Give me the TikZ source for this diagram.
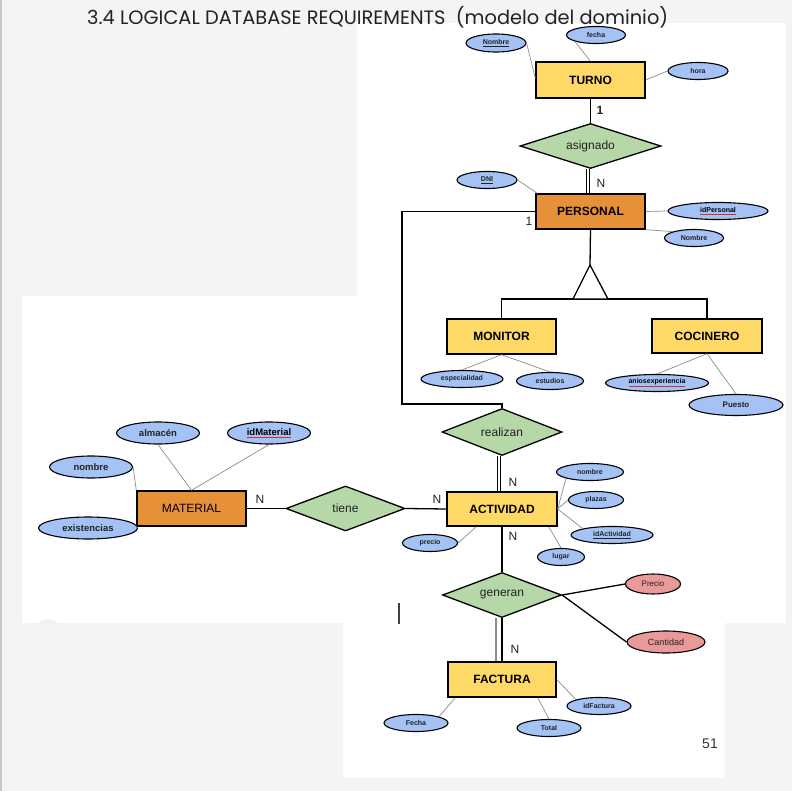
\documentclass[tikz,border=0pt]{standalone}
\usepackage{fontspec}
\usepackage{graphicx}
\setmainfont{Liberation Sans}
\newfontfamily\titlefont{Poppins}
\usetikzlibrary{shapes.geometric,calc}
\definecolor{bgc}{HTML}{F3F4F6}
\definecolor{entY}{HTML}{FFD966}
\definecolor{entO}{HTML}{E69138}
\definecolor{relG}{HTML}{B6D7A8}
\definecolor{attB}{HTML}{A4C2F4}
\definecolor{attR}{HTML}{EA9999}
\definecolor{txt}{HTML}{222222}
\definecolor{squig}{HTML}{D03030}
\newcommand{\redul}[1]{\textcolor{squig}{\underline{\textcolor{black}{#1}}}}
\begin{document}
\begin{tikzpicture}[x=1pt,y=-1pt,
  sz/.style 2 args={minimum width=#1pt, minimum height=#2pt},
  ent/.style={rectangle, draw=black, line width=1.4pt, fill=entY, inner sep=0pt, font=\fontsize{12}{12}\selectfont\bfseries},
  rel/.style={diamond, aspect=3, draw=black, line width=1.3pt, fill=relG, inner sep=0pt, text=txt, font=\fontsize{12}{12}\selectfont},
  att/.style={ellipse, draw=black, line width=1.1pt, fill=attB, inner sep=0pt, text=txt, font=\fontsize{7}{7}\selectfont\bfseries},
  attl/.style={att, font=\fontsize{9.5}{9.5}\selectfont\bfseries},
  attr/.style={ellipse, draw=black, line width=1.1pt, fill=attR, inner sep=0pt, text=txt, font=\fontsize{8}{8}\selectfont},
  aline/.style={draw=black!45, line width=0.7pt},
  rline/.style={draw=black, line width=1.3pt},
  card/.style={inner sep=0pt, text=txt, font=\fontsize{12}{12}\selectfont}
]
\useasboundingbox (0,0) rectangle (792,791);
% background panels
\fill[bgc] (0,0) rectangle (792,791);
\fill[white] (357,23) rectangle (786,623);
\fill[white] (22,296) rectangle (358,623);
\fill[white] (343,622) rectangle (725,778);
\begin{scope}
  \clip (22,296) rectangle (357,623);
  \fill[black!5] (48,633) circle (14);
\end{scope}
\fill[black!22] (0,0) rectangle (2,791);
% title
\node[anchor=base west, inner sep=0pt, text=txt] (title) at (87,25)
  {\resizebox{581pt}{!}{\titlefont 3.4 LOGICAL DATABASE REQUIREMENTS\ \ (modelo del dominio)}};

% entities and relationships
\node[ent, sz={109}{36}] (turno) at (590.5,80) {TURNO};
\node[rel, sz={141}{45}] (asignado) at (590.5,146) {asignado};
\node[ent, fill=entO, sz={109}{35}] (personal) at (590.5,211.5) {PERSONAL};
\node[ent, sz={109}{35}] (monitor) at (501.5,336.5) {MONITOR};
\node[ent, sz={110}{34}] (cocinero) at (707,336) {COCINERO};
\node[rel, sz={120}{47}] (realizan) at (502,432) {realizan};
\node[ent, sz={110}{34}] (actividad) at (502,509) {ACTIVIDAD};
\node[rel, sz={119}{45}] (tiene) at (345.5,508.5) {tiene};
\node[ent, fill=entO, font=\fontsize{12}{12}\selectfont, sz={109}{35}] (material) at (191.5,508.5) {MATERIAL};
\node[rel, sz={119}{45}] (generan) at (502,595) {generan};
\node[ent, sz={108}{35}] (factura) at (502,679.5) {FACTURA};

% attributes
\node[att, sz={60}{18}] (nombreT) at (496,43) {\underline{Nombre}};
\node[att, sz={59}{17}] (fecha) at (596,35) {fecha};
\node[att, sz={60}{17}] (hora) at (698,71) {hora};
\node[att, sz={60}{17}] (dni) at (487,180) {\underline{DNI}};
\node[att, sz={100}{17}] (idpersonal) at (718,211) {\redul{idPersonal}};
\node[att, sz={59}{17}] (nombreP) at (694,238) {Nombre};
\node[att, sz={82}{17}] (especialidad) at (462,379) {especialidad};
\node[att, sz={67}{17}] (estudios) at (550,381) {estudios};
\node[att, sz={103}{17}] (anios) at (657,383) {\redul{aniosexperiencia}};
\node[att, sz={94}{21}, font=\fontsize{8}{8}\selectfont\bfseries] (puesto) at (736,405) {Puesto};
\node[attl, sz={83}{22}] (almacen) at (158,433) {almacén};
\node[attl, sz={83}{22}] (idmaterial) at (269,433) {\redul{idMaterial}};
\node[attl, sz={83}{22}] (nombreM) at (91,467) {nombre};
\node[attl, sz={99}{22}] (existencias) at (88,528) {existencias};
\node[att, sz={67}{17}] (nombreA) at (590,472) {nombre};
\node[att, sz={55}{17}] (plazas) at (596,500) {plazas};
\node[att, sz={82}{17}] (idactividad) at (612,535) {\underline{idActividad}};
\node[att, sz={47}{17}] (lugar) at (561,557) {lugar};
\node[att, sz={55}{17}] (precio) at (430,543) {precio};
\node[attr, sz={55}{20}] (precioR) at (653,584) {Precio};
\node[attr, sz={78}{22}, font=\fontsize{9}{9}\selectfont] (cantidad) at (666,642) {Cantidad};
\node[att, sz={64}{17}] (fechaF) at (416,723) {Fecha};
\node[att, sz={64}{17}] (total) at (549,728) {Total};
\node[att, sz={64}{17}] (idfactura) at (599,706) {idFactura};

% attribute connectors
\draw[aline] (nombreT.east) -- ([yshift=2pt]turno.west);
\draw[aline] (fecha.south west) -- (turno.north);
\draw[aline] (hora.west) -- (turno.east);
\draw[aline] (dni.east) -- ([xshift=2pt]personal.north west);
\draw[aline] (personal.east) -- (idpersonal.west);
\draw[aline] (personal.south east) -- (nombreP.north west);
\draw[aline] (especialidad.north) -- (monitor.south);
\draw[aline] (estudios.north) -- (monitor.south);
\draw[aline] (anios.north) -- (cocinero.south);
\draw[aline] (puesto.north) -- (cocinero.south);
\draw[aline] (almacen.south) -- (material.north);
\draw[aline] (idmaterial.south) -- (material.north);
\draw[aline] (nombreM.east) -- (material.north west);
\draw[aline] (existencias.east) -- (material.south west);
\draw[aline] (actividad.east) -- (nombreA.south west);
\draw[aline] (actividad.east) -- (plazas.west);
\draw[aline] (actividad.east) -- (idactividad.north west);
\draw[aline] ([xshift=-9pt]actividad.south east) -- (lugar.north);
\draw[aline] ([xshift=30pt]actividad.south west) -- (precio.east);
\draw[aline] (fechaF.north east) -- ([xshift=8pt]factura.south west);
\draw[aline] (total.north) -- ([xshift=-19pt]factura.south east);
\draw[aline] (idfactura.north west) -- (factura.east);

% relationship connectors
\draw[rline] (turno.south) -- (asignado.north);
\draw[rline, double=white, double distance=2.6pt, line width=1pt] ([xshift=-2.5pt]asignado.south) -- ([xshift=-2.5pt]personal.north);
\coordinate (bend) at (402,404);
\draw[rline] (personal.west) -| (bend) -| (realizan.north);
\coordinate (isa) at (590,265);
\coordinate (isabase) at (590,299);
\draw[rline] (personal.south) -- (isa);
\draw[rline] (monitor.north) |- (isabase) -| (cocinero.north);
\draw[rline, fill=white, line join=miter] (isa) -- (573,299) -- (608,299) -- cycle;
\draw[rline, double=white, double distance=2.6pt, line width=1pt] ([xshift=-3pt]realizan.south) -- ([xshift=-3pt]actividad.north);
\draw[rline] (material.east) -- (tiene.west);
\draw[rline] (tiene.east) -- (actividad.west);
\draw[rline] (actividad.south) -- (generan.north);
\draw[rline] (generan.east) -- (precioR.west);
\draw[rline] (generan.east) -- (cantidad.west);
\draw[draw=black!45, line width=1.3pt] ([xshift=-6pt]generan.south) -- ([xshift=-6pt]factura.north);
\draw[rline] (generan.south) -- (factura.north);

% cardinalities
\node[card, font=\fontsize{12}{12}\selectfont\bfseries] (k1) at (600,110) {1};
\node[card] (k2) at (601,183) {N};
\node[card] (k3) at (529,221) {1};
\node[card] (k4) at (513,482) {N};
\node[card] (k5) at (437,499) {N};
\node[card] (k6) at (260,499) {N};
\node[card] (k7) at (513,536) {N};
\node[card] (k8) at (515,649) {N};

% page number and cursor mark
\node[inner sep=0pt, text=black!80, font=\fontsize{14}{14}\selectfont] (pg) at (710,744) {51};
\draw[line width=1.6pt, black!75] (399,603) -- (399,624);
\end{tikzpicture}
\end{document}
